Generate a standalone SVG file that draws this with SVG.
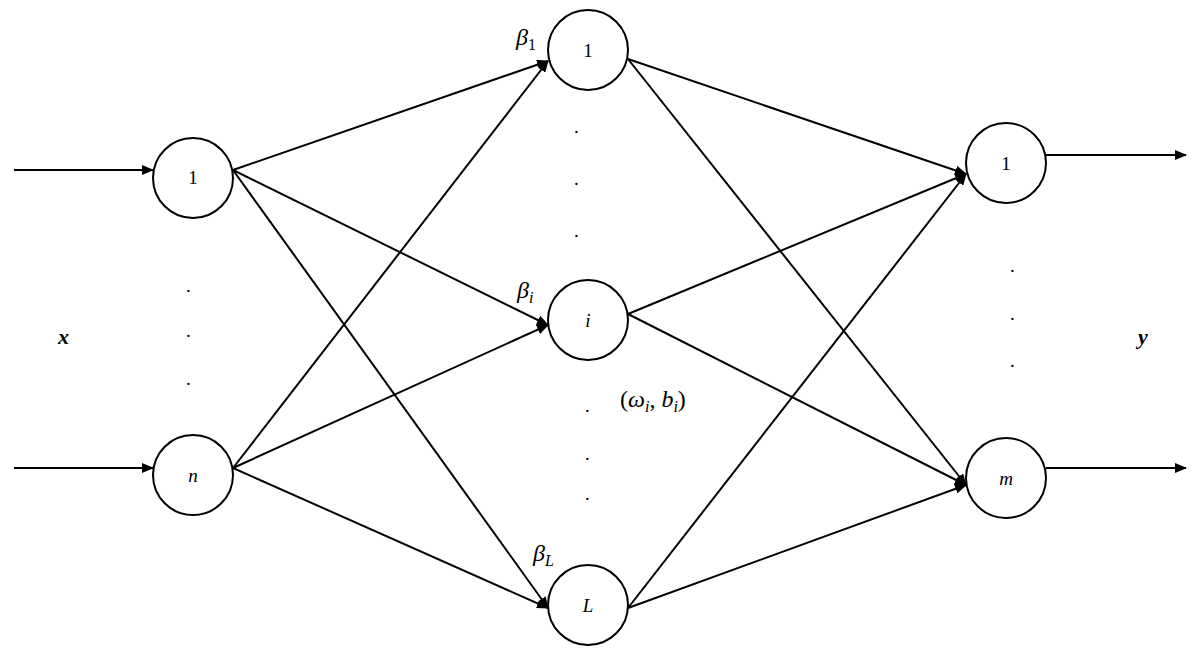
<svg xmlns="http://www.w3.org/2000/svg" width="1200" height="650" viewBox="0 0 1200 650">
<style>
circle{fill:#fff;stroke:#000;stroke-width:2}
.c line{stroke:#000;stroke-width:2}
text{font-family:"Liberation Serif","DejaVu Serif",serif;font-size:19px;fill:#000}
.i{font-style:italic}
.b{font-weight:bold;font-style:italic;font-size:22px}
.lbl{font-size:24px;font-style:italic}
.sub{font-size:16px}
.w{font-size:24px}
</style>
<defs><marker id="a" markerWidth="12" markerHeight="10" refX="11" refY="5" orient="auto" markerUnits="userSpaceOnUse"><path d="M0,0L12,5L0,10z"/></marker></defs>
<g class="c" marker-end="url(#a)">
<line x1="14" y1="170" x2="153" y2="170"/>
<line x1="14" y1="468" x2="153" y2="468"/>
<line x1="233" y1="170" x2="548" y2="61"/>
<line x1="233" y1="170" x2="548" y2="325"/>
<line x1="233" y1="170" x2="548" y2="608"/>
<line x1="233" y1="468" x2="548" y2="61"/>
<line x1="233" y1="468" x2="548" y2="325"/>
<line x1="233" y1="468" x2="548" y2="608"/>
<line x1="628" y1="59" x2="966" y2="174"/>
<line x1="628" y1="59" x2="966" y2="485"/>
<line x1="628" y1="314" x2="966" y2="174"/>
<line x1="628" y1="314" x2="966" y2="485"/>
<line x1="628" y1="608" x2="966" y2="174"/>
<line x1="628" y1="608" x2="966" y2="485"/>
<line x1="1046" y1="155" x2="1186" y2="155"/>
<line x1="1046" y1="468" x2="1186" y2="468"/>
</g>
<g id="in1"><circle cx="193" cy="178" r="40"/><text x="193" y="184" text-anchor="middle">1</text></g>
<g id="inn"><circle cx="193" cy="475" r="40"/><text x="193" y="482" text-anchor="middle" class="i">n</text></g>
<g id="h1"><circle cx="588" cy="50" r="40"/><text x="588" y="57" text-anchor="middle">1</text></g>
<g id="hi"><circle cx="588" cy="320" r="40"/><text x="588" y="327" text-anchor="middle" class="i">i</text></g>
<g id="hL"><circle cx="588" cy="605" r="40"/><text x="588" y="612" text-anchor="middle" class="i">L</text></g>
<g id="o1"><circle cx="1006" cy="163" r="40"/><text x="1006" y="170" text-anchor="middle">1</text></g>
<g id="om"><circle cx="1006" cy="478" r="40"/><text x="1006" y="485" text-anchor="middle" class="i">m</text></g>
<g id="labels">
<text x="516" y="45" class="lbl">β<tspan class="sub" dy="5" font-style="normal">1</tspan></text>
<text x="517" y="298" class="lbl">β<tspan class="sub" dy="5">i</tspan></text>
<text x="533" y="561" class="lbl">β<tspan class="sub" dy="5">L</tspan></text>
<text x="620" y="407" class="w">(<tspan class="i">ω</tspan><tspan class="sub i" dy="5">i</tspan><tspan dy="-5">, </tspan><tspan class="i">b</tspan><tspan class="sub i" dy="5">i</tspan><tspan dy="-5">)</tspan></text>
<text x="58" y="344" class="b">x</text>
<text x="1138" y="344" class="b">y</text>
</g>
<g id="dots">
<text x="186" y="292">.</text><text x="186" y="337">.</text><text x="186" y="385">.</text>
<text x="574" y="133">.</text><text x="574" y="185">.</text><text x="574" y="237">.</text>
<text x="585" y="412">.</text><text x="585" y="460">.</text><text x="585" y="500">.</text>
<text x="1010" y="272">.</text><text x="1010" y="320">.</text><text x="1010" y="367">.</text>
</g>
</svg>
